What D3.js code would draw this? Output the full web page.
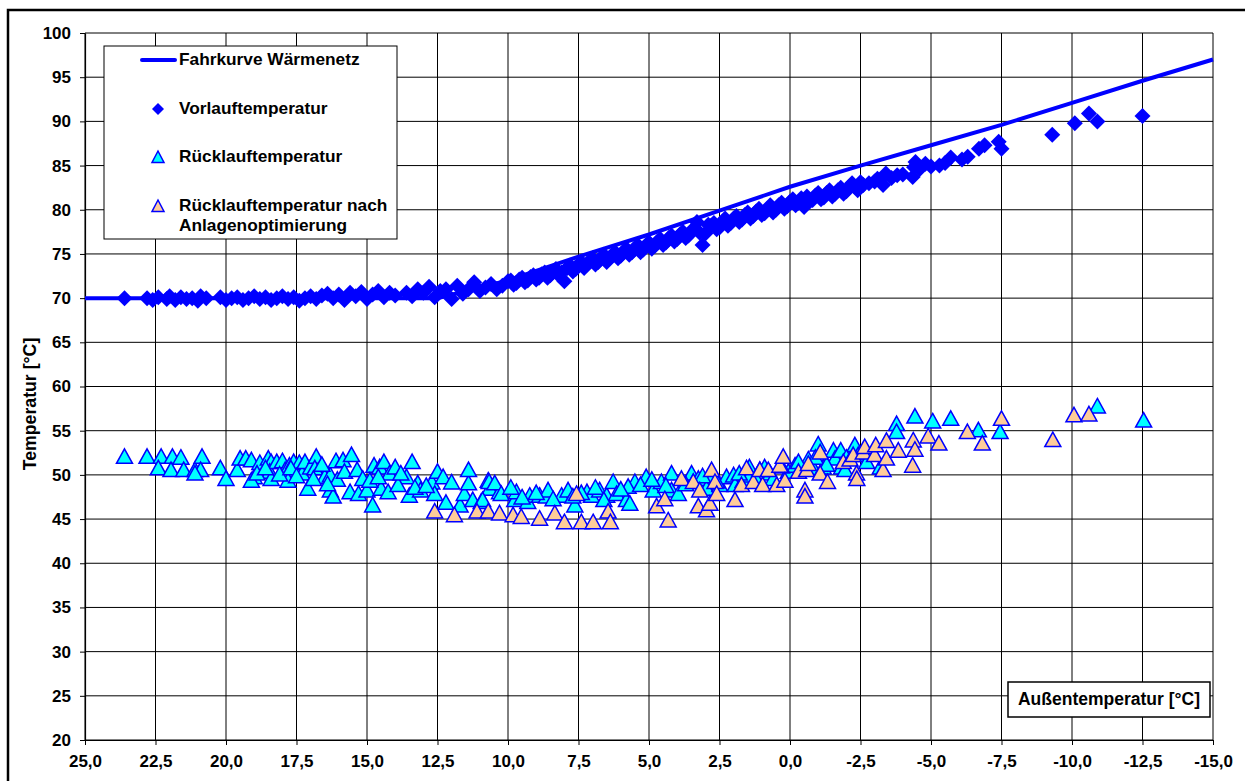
<!DOCTYPE html>
<html>
<head>
<meta charset="utf-8">
<script src="https://cdn.jsdelivr.net/npm/d3@7"></script>
<style>
  body { margin: 0; background: #fff; }
  text { font-family: "Liberation Sans", Arial, sans-serif; font-weight: bold; }
</style>
</head>
<body>
<div id="chart"></div>
<script>
// Fahrkurve (Außentemperatur -> Vorlauf soll)
const fahrT = [25, 12.5, 10, 7.5, 5, 2.5, 0, -2.5, -5, -7.5, -10, -12.5, -15];
const fahrV = [70, 70, 72.0, 74.7, 77.2, 79.9, 82.6, 85.0, 87.3, 89.6, 92.1, 94.6, 97.0];

// Vorlauftemperatur [T, V]
const vorlauf = [
  [23.6,70.0],[22.8,70.0],[22.6,69.8],[22.4,70.1],[22.1,69.9],[22.0,70.2],[21.8,69.8],[21.6,70.1],
  [21.4,69.9],[21.2,70.0],[21.0,69.7],[20.9,70.2],[20.7,70.0],[20.2,70.1],[20.0,69.8],[19.8,70.0],
  [19.6,70.1],[19.4,69.8],[19.2,70.0],[19.0,70.2],[18.8,69.9],[18.6,70.1],[18.4,69.8],[18.2,70.0],
  [18.0,70.2],[17.8,69.9],[17.6,70.1],[17.4,69.7],[17.2,70.0],[17.0,70.2],[16.8,69.9],[16.6,70.3],
  [16.4,70.5],[16.2,70.0],[16.0,70.4],[15.8,69.8],[15.6,70.6],[15.4,70.2],[15.2,70.7],[15.0,69.9],
  [14.8,70.4],[14.6,70.8],[14.4,70.1],[14.2,70.6],[14.0,70.3],[13.6,70.6],[13.4,70.2],[13.2,71.0],
  [13.0,70.6],[12.8,71.3],[12.6,70.1],[12.4,70.8],[12.2,71.0],[12.0,69.9],[11.8,71.4],[11.6,70.5],
  [11.4,71.0],[11.2,71.8],[11.0,70.8],[10.8,71.2],[10.6,71.6],[10.4,71.0],[10.2,71.4],[10.0,71.9],
  [9.8,71.5],[9.6,72.1],[9.4,71.8],[9.2,72.4],[9.0,72.1],[8.8,72.7],[8.6,72.3],[8.4,73.0],
  [8.2,72.6],[8.0,71.9],[7.9,73.4],[7.7,73.0],[7.5,73.8],[7.3,73.4],[7.1,74.2],[6.9,73.8],
  [6.7,74.5],[6.5,74.1],[6.3,74.9],[6.1,74.5],[5.9,75.3],[5.7,74.9],[5.5,75.6],[5.3,75.2],
  [5.1,76.0],[4.9,75.6],[4.7,76.4],[4.5,76.0],[4.3,76.8],[4.1,76.4],[3.9,77.2],[3.7,76.8],
  [3.5,77.6],[3.3,78.6],[3.1,76.0],[3.0,77.3],[2.8,78.2],[2.6,77.8],[2.4,78.6],[2.2,78.2],
  [2.0,79.0],[1.8,78.6],[1.6,79.4],[1.4,79.0],[1.2,79.8],[1.0,79.4],[0.8,80.1],[0.6,79.7],
  [0.4,80.5],[0.2,80.1],[0.0,80.9],[-0.2,80.5],[-0.4,81.3],[-0.5,80.3],[-0.7,81.0],[-0.9,81.6],
  [-1.1,81.2],[-1.3,81.9],[-1.5,81.5],[-1.7,82.2],[-1.9,81.8],[-2.1,82.6],[-2.2,83.0],[-2.4,82.2],
  [-2.6,82.8],[-3.0,83.2],[-3.3,82.8],[-3.4,84.1],[-3.8,83.9],[-4.35,83.7],[-4.4,84.8],[-4.45,85.4],
  [-4.8,85.2],[-5.0,84.9],[-5.3,85.0],[-5.7,85.9],[-6.3,86.0],[-6.7,86.9],[-6.9,87.3],[-7.4,87.7],
  [-7.5,86.9],[-9.3,88.5],[-10.1,89.8],[-10.6,90.9],[-10.9,90.0],[-12.5,90.6],
  [9.9,72.0],[9.7,71.7],[9.5,72.3],[9.3,72.0],[9.1,72.6],[8.9,72.3],[8.7,72.9],[8.5,72.6],
  [8.3,73.3],[8.1,72.9],[7.8,73.7],[7.6,73.3],[7.4,74.1],[7.2,73.8],[7.0,74.5],[6.8,74.1],
  [6.6,74.9],[6.4,74.5],[6.2,75.2],[6.0,74.8],[5.8,75.6],[5.6,75.2],[5.4,76.0],[5.2,75.5],
  [5.0,76.3],[4.8,75.9],[4.6,76.7],[4.4,76.3],[4.2,77.1],[4.0,76.7],[3.8,77.5],[3.6,77.1],
  [3.4,77.9],[3.2,77.4],[2.9,78.3],[2.7,78.5],[2.5,78.0],[2.3,79.0],[2.1,78.5],[1.9,79.3],
  [1.7,78.9],[1.5,79.7],[1.3,79.3],[1.1,80.1],[0.9,79.6],[0.7,80.5],[0.5,80.0],[0.3,80.8],
  [0.1,80.4],[-0.1,81.2],[-0.3,80.8],[-0.6,81.5],[-0.8,81.1],[-1.0,81.9],[-1.2,81.4],[-1.4,82.2],
  [-1.6,81.8],[-1.8,82.5],[-2.0,82.1],[-2.3,82.6],[-2.5,83.1],[-2.8,83.0],[-3.1,83.5],[-3.6,83.6],
  [-4.0,84.0],[-4.6,84.6],[-5.5,85.3],[-6.1,85.7]
];

// Rücklauftemperatur [T, V]
const ruecklauf = [
  [23.6,52.1],[22.8,52.1],[22.3,52.1],[22.4,50.8],[21.9,52.1],[21.95,50.6],[21.6,52.0],[21.5,50.6],
  [21.1,50.6],[20.85,52.1],[20.9,50.6],[21.1,50.2],[20.2,50.8],[20.0,49.6],[19.6,50.6],[19.5,51.9],
  [19.3,51.9],[19.1,51.7],[19.0,49.8],[19.1,49.4],[18.8,51.4],[18.5,51.9],[18.4,51.5],[18.45,50.4],
  [18.4,49.6],[18.2,51.5],[18.0,51.6],[17.9,50.6],[17.75,51.1],[17.8,49.4],[17.6,51.5],[17.4,51.4],
  [17.3,50.2],[17.2,51.5],[17.1,48.5],[17.0,50.9],[16.8,52.1],[16.85,50.8],[16.5,49.8],[16.3,50.0],
  [16.3,48.3],[16.2,47.6],[16.1,51.6],[16.05,49.5],[15.85,51.7],[15.8,50.4],[15.55,52.3],[15.6,48.1],
  [15.35,50.6],[15.3,47.9],[15.15,49.6],[15.0,48.3],[14.8,46.6],[14.75,51.1],[14.55,50.9],[14.5,48.5],
  [14.4,51.5],[14.25,48.1],[14.2,50.2],[14.0,50.9],[13.6,49.8],[13.4,51.5],[13.5,47.7],[13.2,49.1],
  [13.1,48.3],[12.7,49.2],[12.6,47.9],[12.5,50.4],[12.3,49.8],[12.2,46.9],[12.0,49.2],[11.7,46.6],
  [11.55,47.9],[11.4,49.1],[11.4,50.6],[11.25,47.2],[10.95,47.0],[10.7,49.4],[10.65,48.5],[10.3,48.1],
  [10.67,49.25],[10.47,49.1],[10.9,47.2],[10.24,47.9],[9.76,47.2],[9.7,48.1],[9.3,47.0],[9.23,47.7],
  [8.88,47.7],[8.64,47.6],[8.58,48.3],[8.1,47.7],[7.87,48.3],[7.63,46.6],[7.2,48.1],[7.04,47.7],
  [6.75,48.3],[6.5,47.7],[6.27,49.25],[6.15,47.9],[5.8,47.2],[5.68,46.8],[5.5,49.25],[5.74,48.7],
  [5.1,49.8],[4.85,48.3],[4.56,49.25],[4.2,50.2],[4.2,48.3],[3.96,47.9],[3.49,50.2],[3.43,49.25],
  [3.25,49.6],[2.96,48.5],[2.72,50.0],[2.49,48.9],[2.25,49.8],[2.0,50.0],[1.95,48.9],[1.66,49.4],
  [1.44,50.9],[1.42,50.0],[1.07,50.6],[0.7,50.2],[0.6,49.6],[0.06,50.4],[-0.18,51.1],[-0.53,50.9],
  [-0.65,51.8],[-0.83,50.8],[-1.0,53.5],[-1.18,50.9],[-1.54,52.8],[-1.6,51.9],[-1.8,52.8],[-1.83,50.9],
  [-1.95,50.6],[-2.3,53.4],[-2.42,52.3],[-2.72,52.6],[-2.72,51.5],[-3.2,50.9],[-3.78,55.8],[-3.78,54.9],
  [-4.43,56.65],[-5.06,56.1],[-5.7,56.4],[-6.68,55.1],[-7.45,54.9],[-10.9,57.8],[-12.54,56.2],
  [18.9,50.2],[18.6,50.8],[18.1,50.1],[17.7,50.8],[17.5,49.9],[16.9,49.6],[16.6,51.2],[16.4,49.0],
  [14.9,49.4],[14.6,49.8],[13.9,48.9],[13.8,50.2],[13.3,48.6],[12.9,48.8],[9.9,48.6],[9.5,47.5],
  [9.0,48.0],[8.4,47.3],[7.7,47.6],[7.4,48.0],[6.9,48.6],[6.6,47.2],[6.0,48.4],[5.3,48.9],
  [4.9,49.5],[4.4,48.8],[3.7,49.0],[3.1,49.9],[2.6,49.3],[1.8,50.2],[1.2,49.6],[0.9,50.9],
  [0.3,51.0],[-0.3,51.5],[-0.9,52.0],[-1.3,51.2],[-2.0,52.0]
];

// Rücklauftemperatur nach Anlagenoptimierung [T, V]
const ruecklaufOpt = [
  [12.6,45.9],[11.9,45.5],[11.1,45.9],[10.7,45.9],[10.3,45.7],[9.82,45.5],[9.53,45.3],[8.88,45.1],
  [8.34,45.7],[8.0,44.7],[7.57,47.9],[7.4,44.7],[6.98,44.7],[6.45,45.9],[6.37,44.7],[4.73,46.5],
  [4.44,47.3],[4.32,44.9],[3.85,49.6],[3.43,49.25],[3.25,46.5],[3.2,48.3],[2.96,46.05],[2.84,46.8],
  [2.78,50.6],[2.66,49.25],[2.6,47.9],[1.95,47.2],[1.72,48.9],[1.54,50.8],[1.3,49.25],[1.07,50.6],
  [0.97,48.9],[0.77,50.6],[0.47,48.9],[0.36,51.1],[0.24,52.1],[0.18,49.4],[-0.3,50.4],[-0.53,48.3],
  [-0.53,47.6],[-0.59,50.6],[-0.65,51.3],[-1.07,50.2],[-1.07,52.6],[-1.33,49.25],[-1.89,51.5],[-2.13,51.8],
  [-2.24,52.3],[-2.36,50.2],[-2.37,49.6],[-2.6,52.6],[-2.65,53.2],[-3.0,52.3],[-3.04,53.4],[-3.3,50.6],
  [-3.42,53.9],[-3.42,51.9],[-3.84,52.8],[-4.35,51.1],[-4.37,53.95],[-4.43,52.9],[-4.9,54.4],[-5.28,53.6],
  [-6.29,54.9],[-6.82,53.6],[-7.5,56.4],[-9.32,54.0],[-10.07,56.8],[-10.6,56.9]
];

const xTicks = d3.range(25, -15.01, -2.5);
const yTicks = d3.range(20, 100.01, 5);

const width = 1245;
const height = 781;

const x = d3.scaleLinear().domain([25, -15]).range([85, 1213]);
const y = d3.scaleLinear().domain([20, 100]).range([740, 33]);

const svg = d3.select("#chart").append("svg")
    .attr("width", width)
    .attr("height", height);

// outer chart frame
svg.append("rect")
    .attr("x", 8).attr("y", 10)
    .attr("width", 1260).attr("height", 800)
    .attr("fill", "none")
    .attr("stroke", "#000")
    .attr("stroke-width", 2.5);

// grid
svg.append("g").selectAll("line")
    .data(yTicks)
    .enter().append("line")
    .attr("x1", 85).attr("x2", 1213)
    .attr("y1", d => y(d)).attr("y2", d => y(d))
    .attr("stroke", "#000").attr("stroke-width", 1);

svg.append("g").selectAll("line")
    .data(xTicks)
    .enter().append("line")
    .attr("x1", d => x(d)).attr("x2", d => x(d))
    .attr("y1", 33).attr("y2", 740)
    .attr("stroke", "#000").attr("stroke-width", 1);

// axes
const fmt = d => d.toFixed(1).replace(".", ",");

svg.append("g")
    .attr("transform", "translate(0,740)")
    .call(d3.axisBottom(x).tickValues(xTicks).tickSize(5).tickSizeOuter(0).tickFormat(fmt))
    .call(g => g.selectAll(".tick text").attr("dy", null).attr("y", 27)
        .style("font-size", "17px").style("font-weight", "bold").attr("fill", "#000"));

svg.append("g")
    .attr("transform", "translate(85,0)")
    .call(d3.axisLeft(y).tickValues(yTicks).tickSize(5).tickSizeOuter(0).tickFormat(d3.format("d")))
    .call(g => g.selectAll(".tick text").attr("x", -14)
        .style("font-size", "17px").style("font-weight", "bold").attr("fill", "#000"));

svg.selectAll(".domain").attr("stroke", "#000").attr("stroke-width", 1.2);

// Fahrkurve
const fahr = fahrT.map((t, i) => [t, fahrV[i]]);
svg.append("path")
    .datum(fahr)
    .attr("d", d3.line().x(d => x(d[0])).y(d => y(d[1])))
    .attr("fill", "none")
    .attr("stroke", "#0000ff")
    .attr("stroke-width", 4);

const diamond = "M0,-8L8,0L0,8L-8,0Z";
const triangle = "M0,-7.5L8,7L-8,7Z";

svg.append("g").selectAll("path")
    .data(vorlauf)
    .enter().append("path")
    .attr("d", diamond)
    .attr("transform", d => `translate(${x(d[0])},${y(d[1])})`)
    .attr("fill", "#0000ff");

svg.append("g").selectAll("path")
    .data(ruecklauf)
    .enter().append("path")
    .attr("d", triangle)
    .attr("transform", d => `translate(${x(d[0])},${y(d[1])})`)
    .attr("fill", "#00ffff")
    .attr("stroke", "#0000ff")
    .attr("stroke-width", 1.5);

svg.append("g").selectAll("path")
    .data(ruecklaufOpt)
    .enter().append("path")
    .attr("d", triangle)
    .attr("transform", d => `translate(${x(d[0])},${y(d[1])})`)
    .attr("fill", "#ffcc99")
    .attr("stroke", "#0000ff")
    .attr("stroke-width", 1.5);

// y axis title
svg.append("text")
    .attr("transform", "translate(31,404) rotate(-90)")
    .attr("text-anchor", "middle")
    .attr("dominant-baseline", "middle")
    .style("font-size", "17.7px")
    .text("Temperatur [°C]");

// x axis title in box
svg.append("rect")
    .attr("x", 1008).attr("y", 682)
    .attr("width", 202).attr("height", 35)
    .attr("fill", "#fff")
    .attr("stroke", "#000")
    .attr("stroke-width", 1.5);
svg.append("text")
    .attr("x", 1109).attr("y", 700)
    .attr("text-anchor", "middle")
    .attr("dominant-baseline", "middle")
    .style("font-size", "17.5px")
    .text("Außentemperatur [°C]");

// legend
const legend = svg.append("g");
legend.append("rect")
    .attr("x", 104).attr("y", 46)
    .attr("width", 293).attr("height", 193)
    .attr("fill", "#fff")
    .attr("stroke", "#000")
    .attr("stroke-width", 1);

legend.append("line")
    .attr("x1", 142).attr("x2", 175)
    .attr("y1", 60).attr("y2", 60)
    .attr("stroke", "#0000ff")
    .attr("stroke-width", 4)
    .attr("stroke-linecap", "round");
legend.append("path")
    .attr("d", "M0,-6L6,0L0,6L-6,0Z")
    .attr("transform", "translate(158,109)")
    .attr("fill", "#0000ff");
legend.append("path")
    .attr("d", "M0,-6L6,5.5L-6,5.5Z")
    .attr("transform", "translate(158,157)")
    .attr("fill", "#00ffff").attr("stroke", "#0000ff").attr("stroke-width", 1.5);
legend.append("path")
    .attr("d", "M0,-6L6,5.5L-6,5.5Z")
    .attr("transform", "translate(158,206)")
    .attr("fill", "#ffcc99").attr("stroke", "#0000ff").attr("stroke-width", 1.5);

const legendText = [
  ["Fahrkurve Wärmenetz", 60],
  ["Vorlauftemperatur", 109],
  ["Rücklauftemperatur", 157],
  ["Rücklauftemperatur nach", 206],
  ["Anlagenoptimierung", 226]
];
legend.selectAll("text")
    .data(legendText)
    .enter().append("text")
    .attr("x", 179)
    .attr("y", d => d[1])
    .attr("dominant-baseline", "middle")
    .style("font-size", "17.3px")
    .text(d => d[0]);
</script>
</body>
</html>
